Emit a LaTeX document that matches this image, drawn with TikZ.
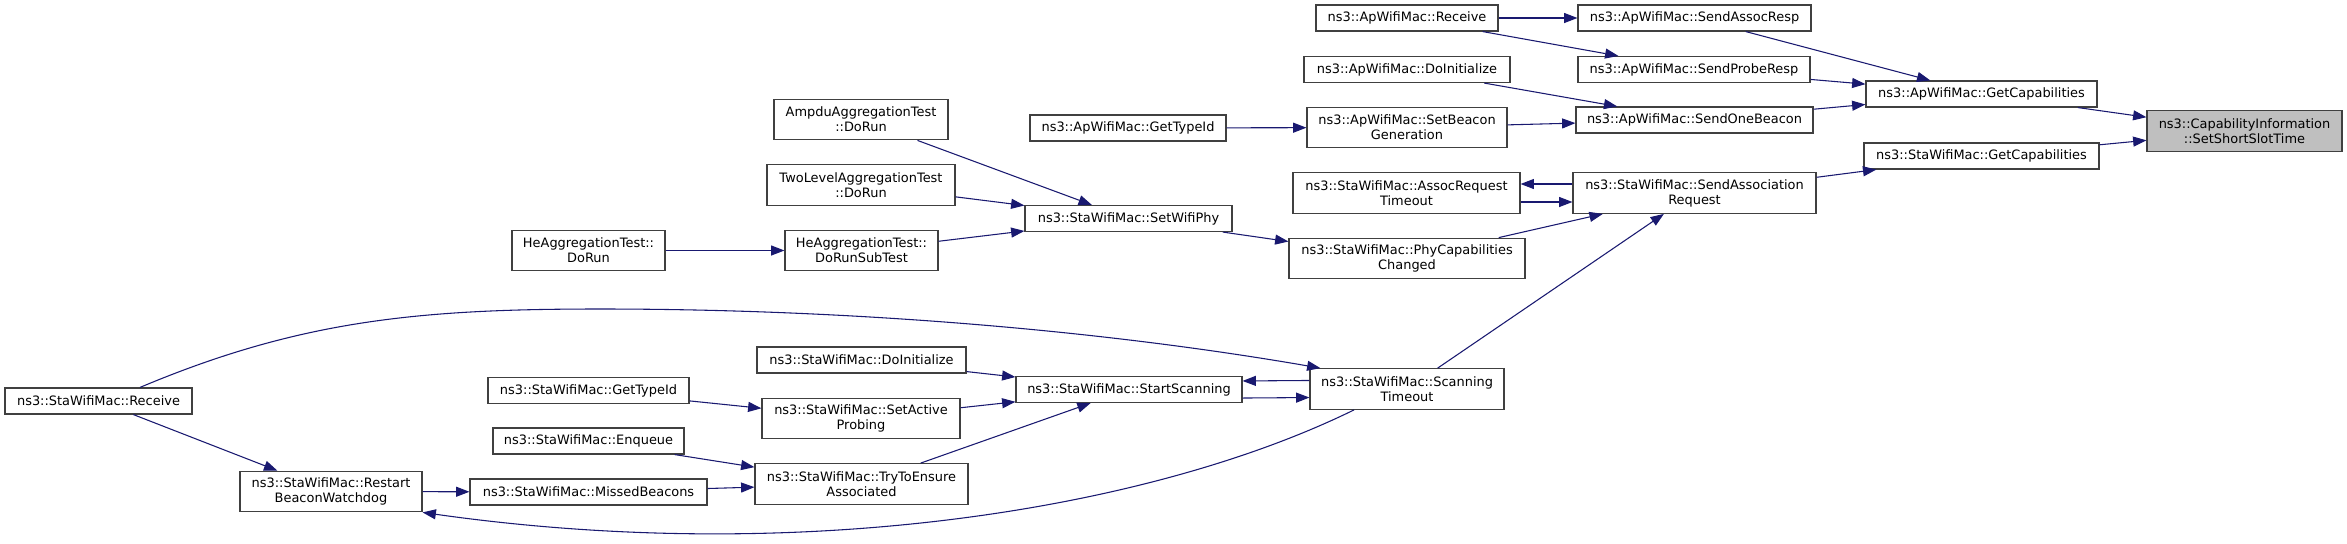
\documentclass[tikz,border=0pt]{standalone}
\usepackage{fontspec}
\newfontfamily\dv{DejaVu Sans}
\usetikzlibrary{arrows.meta}
\definecolor{edgeblue}{HTML}{191970}
\definecolor{boxborder}{HTML}{404040}
\definecolor{hlfill}{HTML}{BFBFBF}
\tikzset{
  box/.style={draw=boxborder, fill=white, line width=0.85pt, inner sep=0pt, align=center,
    font={\dv\fontsize{9.7}{11.25}\selectfont}, minimum height=19.5pt},
  tall/.style={minimum height=30.5pt},
  wd/.style={minimum width=#1*0.75pt},
  hl/.style={fill=hlfill},
  edge/.style={draw=edgeblue, line width=0.8pt, -{Triangle[length=10pt,width=7.5pt]}}
}
\begin{document}
\begin{tikzpicture}[x=0.75pt,y=-0.75pt]
\useasboundingbox (0,0) rectangle (2347,543);
% nodes
\node[box,wd=182] (apr) at (1407,18) {ns3::ApWifiMac::Receive};
\node[box,wd=206] (api) at (1407,69.5) {ns3::ApWifiMac::DoInitialize};
\node[box,wd=196] (aptid) at (1128,128) {ns3::ApWifiMac::GetTypeId};
\node[box,tall,wd=200] (sbg) at (1407,127.5) {ns3::ApWifiMac::SetBeacon\\Generation};
\node[box,wd=233] (sar) at (1694.5,18) {ns3::ApWifiMac::SendAssocResp};
\node[box,wd=232] (spr) at (1694,69.5) {ns3::ApWifiMac::SendProbeResp};
\node[box,wd=237] (sob) at (1694.5,120) {ns3::ApWifiMac::SendOneBeacon};
\node[box,wd=231] (agc) at (1981.5,94) {ns3::ApWifiMac::GetCapabilities};
\node[box,wd=235] (sgc) at (1981.5,156) {ns3::StaWifiMac::GetCapabilities};
\node[box,tall,hl,wd=195] (ssst) at (2244.5,131) {ns3::CapabilityInformation\\::SetShortSlotTime};
\node[box,tall,wd=243] (sareq) at (1694.5,193) {ns3::StaWifiMac::SendAssociation\\Request};
\node[box,tall,wd=227] (art) at (1406.5,193) {ns3::StaWifiMac::AssocRequest\\Timeout};
\node[box,tall,wd=236] (pcc) at (1407,258.5) {ns3::StaWifiMac::PhyCapabilities\\Changed};
\node[box,tall,wd=194] (sto) at (1407,389) {ns3::StaWifiMac::Scanning\\Timeout};
\node[box,tall,wd=174] (amp) at (861,119.5) {AmpduAggregationTest\\::DoRun};
\node[box,tall,wd=188] (two) at (861,185) {TwoLevelAggregationTest\\::DoRun};
\node[box,tall,wd=153] (hst) at (861.5,250.5) {HeAggregationTest::\\DoRunSubTest};
\node[box,tall,wd=153] (hdr) at (588.5,250.5) {HeAggregationTest::\\DoRun};
\node[box,wd=207] (swp) at (1128.5,218.5) {ns3::StaWifiMac::SetWifiPhy};
\node[box,wd=226] (ss) at (1129,389.5) {ns3::StaWifiMac::StartScanning};
\node[box,wd=209] (sdi) at (861.5,360) {ns3::StaWifiMac::DoInitialize};
\node[box,tall,wd=198] (sap) at (861,418.5) {ns3::StaWifiMac::SetActive\\Probing};
\node[box,tall,wd=213] (tte) at (861.5,484) {ns3::StaWifiMac::TryToEnsure\\Associated};
\node[box,wd=201] (stid) at (588.5,390.5) {ns3::StaWifiMac::GetTypeId};
\node[box,wd=191] (enq) at (588.5,441) {ns3::StaWifiMac::Enqueue};
\node[box,wd=237] (mb) at (588.5,492) {ns3::StaWifiMac::MissedBeacons};
\node[box,tall,wd=182] (rbw) at (331,491.5) {ns3::StaWifiMac::Restart\\BeaconWatchdog};
\node[box,wd=187] (srx) at (98.5,401) {ns3::StaWifiMac::Receive};
% edges
\draw[edge] (apr) -- (sar);
\draw[edge] (apr) -- (spr);
\draw[edge] (api) -- (sob);
\draw[edge] (sbg) -- (sob);
\draw[edge] (sar) -- (agc);
\draw[edge] (spr) -- (agc);
\draw[edge] (sob) -- (agc);
\draw[edge] (agc) -- (ssst);
\draw[edge] (sgc) -- (ssst);
\draw[edge] (sareq) -- (sgc);
\draw[edge] ([yshift=6.75pt]sareq.west) -- ([yshift=6.75pt]art.east);
\draw[edge] ([yshift=-6.75pt]art.east) -- ([yshift=-6.75pt]sareq.west);
\draw[edge] (pcc) -- (sareq);
\draw[edge] (sto) -- (sareq);
\draw[edge] (aptid) -- (sbg);
\draw[edge] (amp) -- (swp);
\draw[edge] (two) -- (swp);
\draw[edge] (hst) -- (swp);
\draw[edge] (hdr) -- (hst);
\draw[edge] (swp) -- (pcc);
\draw[edge] (srx) -- (rbw);
\draw[edge] (rbw) -- (mb);
\draw[edge] (mb) -- (tte);
\draw[edge] (enq) -- (tte);
\draw[edge] (stid) -- (sap);
\draw[edge] (sdi) -- (ss);
\draw[edge] (sap) -- (ss);
\draw[edge] (tte) -- (ss);
\draw[edge] ([yshift=6.4pt]sto.west) -- ([yshift=6.4pt]ss.east);
\draw[edge] ([yshift=-6.4pt]ss.east) -- ([yshift=-6.4pt]sto.west);
\draw[edge] ([xshift=31.1pt]srx.north) .. controls (300,320) and (420,309) .. (600,309)
  .. controls (850,309) and (1100,330) .. ([xshift=8.25pt]sto.north west);
\draw[edge] ([xshift=-39.75pt]sto.south) .. controls (1150,510) and (800,566) .. (rbw.south east);
\end{tikzpicture}
\end{document}
